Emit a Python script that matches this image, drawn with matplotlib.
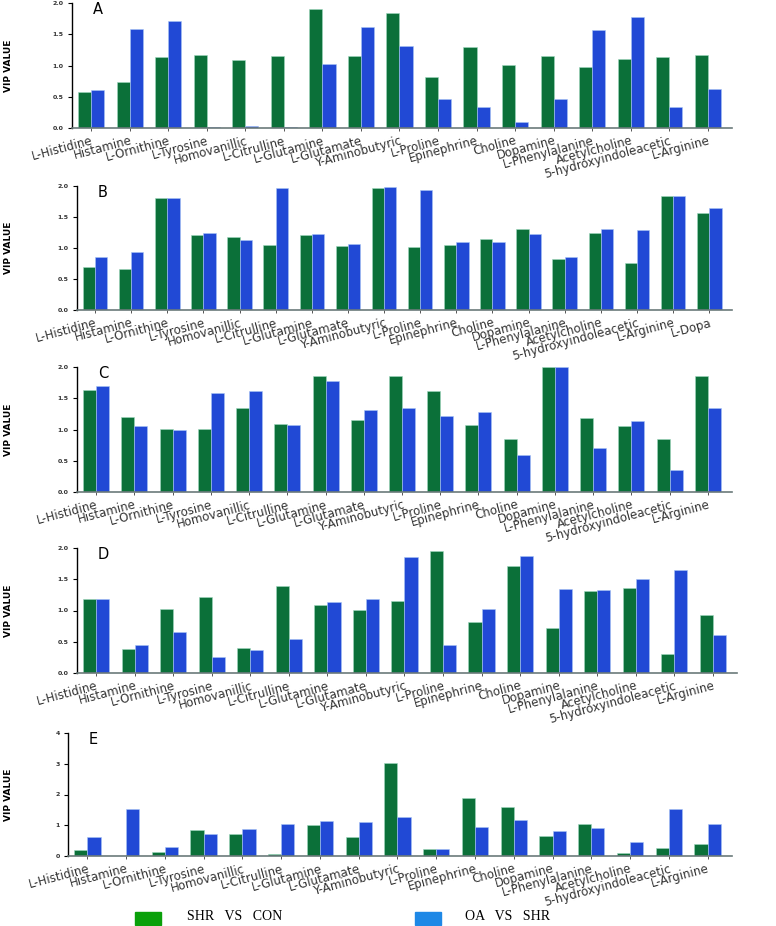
import matplotlib
matplotlib.use('Agg')
import matplotlib.pyplot as plt
import numpy as np
from matplotlib.patches import Rectangle

base_labels = ["L-Histidine", "Histamine", "L-Ornithine", "L-Tyrosine", "Homovanillic",
               "L-Citrulline", "L-Glutamine", "L-Glutamate", "Y-Aminobutyric", "L-Proline",
               "Epinephrine", "Choline", "Dopamine", "L-Phenylalanine", "Acetylcholine",
               "5-hydroxyindoleacetic", "L-Arginine"]
labels_b = base_labels + ["L-Dopa"]

# SHR vs CON (green) and OA vs SHR (blue) VIP values per panel
a_shr = [0.58, 0.73, 1.14, 1.165, 1.09, 1.155, 1.91, 1.15, 1.835, 0.82, 1.30, 1.005, 1.15, 0.97, 1.11, 1.13, 1.165]
a_oa = [0.61, 1.59, 1.72, 0.015, 0.04, 0.01, 1.02, 1.62, 1.32, 0.46, 0.33, 0.096, 0.47, 1.57, 1.77, 0.34, 0.63]

b_shr = [0.69, 0.66, 1.80, 1.216, 1.18, 1.05, 1.205, 1.03, 1.97, 1.016, 1.05, 1.15, 1.30, 0.83, 1.24, 0.76, 1.84, 1.57]
b_oa = [0.86, 0.93, 1.805, 1.24, 1.13, 1.96, 1.23, 1.06, 1.98, 1.93, 1.09, 1.10, 1.23, 0.86, 1.31, 1.29, 1.84, 1.64]

c_shr = [1.64, 1.20, 1.016, 1.016, 1.35, 1.085, 1.855, 1.15, 1.855, 1.61, 1.075, 0.845, 2.0, 1.18, 1.05, 0.855, 1.855]
c_oa = [1.69, 1.06, 1.0, 1.59, 1.61, 1.075, 1.775, 1.32, 1.35, 1.22, 1.28, 0.60, 2.0, 0.71, 1.13, 0.35, 1.34]

d_shr = [1.19, 0.39, 1.03, 1.216, 0.405, 1.40, 1.088, 1.008, 1.152, 1.947, 0.82, 1.717, 0.715, 1.312, 1.355, 0.30, 0.923]
d_oa = [1.184, 0.45, 0.66, 0.256, 0.373, 0.54, 1.136, 1.19, 1.856, 0.448, 1.024, 1.872, 1.344, 1.328, 1.50, 1.653, 0.613]

e_shr = [0.196, 0.0, 0.12, 0.84, 0.71, 0.065, 1.0, 0.61, 3.02, 0.24, 1.89, 1.58, 0.65, 1.04, 0.10, 0.26, 0.39]
e_oa = [0.63, 1.54, 0.30, 0.72, 0.88, 1.03, 1.14, 1.10, 1.26, 0.23, 0.93, 1.17, 0.82, 0.91, 0.45, 1.52, 1.05]

GREEN = '#0b7039'
BLUE = '#2149d5'

W, H = 776, 926
fig = plt.figure(figsize=(W / 100, H / 100), dpi=100)

# (letter, labels, green, blue, ymax, yticks, tick labels, left, right, top, bottom) in pixels
panels = [
    ("A", base_labels, a_shr, a_oa, 2.0, [0, 0.5, 1.0, 1.5, 2.0], ["0.0", "0.5", "1.0", "1.5", "2.0"], 72, 732, 3, 128),
    ("B", labels_b, b_shr, b_oa, 2.0, [0, 0.5, 1.0, 1.5, 2.0], ["0.0", "0.5", "1.0", "1.5", "2.0"], 77, 732, 186, 310),
    ("C", base_labels, c_shr, c_oa, 2.0, [0, 0.5, 1.0, 1.5, 2.0], ["0.0", "0.5", "1.0", "1.5", "2.0"], 77, 732, 367, 492),
    ("D", base_labels, d_shr, d_oa, 2.0, [0, 0.5, 1.0, 1.5, 2.0], ["0.0", "0.5", "1.0", "1.5", "2.0"], 77, 737, 548, 673),
    ("E", base_labels, e_shr, e_oa, 4.0, [0, 1, 2, 3, 4], ["0", "1", "2", "3", "4"], 68, 732, 733, 856),
]

w = 0.34
for letter, labels, shr, oa, ymax, yt, ytl, l, r, t, b in panels:
    ax = fig.add_axes([l / W, 1 - b / H, (r - l) / W, (b - t) / H])
    n = len(labels)
    x = np.arange(n)
    ax.bar(x - w / 2, shr, w, color=GREEN, edgecolor='#9fd8c0', linewidth=0.4)
    ax.bar(x + w / 2, oa, w, color=BLUE, edgecolor='#a8c4f5', linewidth=0.4)
    ax.set_xlim(-0.5, n - 0.37)
    ax.set_ylim(0, ymax)
    ax.set_yticks(yt)
    ax.set_yticklabels(ytl, fontsize=4.5, fontweight='bold', color='#333333')
    ax.set_xticks(x)
    ax.set_xticklabels(labels, rotation=15, ha='right', rotation_mode='anchor',
                       fontsize=8.5, color='#333333')
    ax.tick_params(axis='x', length=2.5, width=0.7, pad=2, color='#555555')
    ax.tick_params(axis='y', length=3, width=0.8, pad=3)
    for s in ('top', 'right'):
        ax.spines[s].set_visible(False)
    ax.spines['left'].set_linewidth(1.0)
    ax.spines['bottom'].set_color('#6b7a7a')
    ax.spines['bottom'].set_linewidth(1.2)
    ax.set_ylabel("VIP VALUE", fontsize=6.5, fontweight='bold',
                  family=['Liberation Sans Narrow', 'DejaVu Sans'])
    ax.yaxis.set_label_coords(-(l - 13) / (r - l), 0.5)
    fig.text((l + 21) / W, 1 - (t - 1) / H, letter, fontsize=10.5, va='top', ha='left')

# legend
fig.patches.append(Rectangle((135 / W, 1 - 925 / H), 26 / W, 13 / H, color='#0aa00a',
                             transform=fig.transFigure, figure=fig))
fig.patches.append(Rectangle((415 / W, 1 - 925 / H), 26 / W, 13 / H, color='#1e88e6',
                             transform=fig.transFigure, figure=fig))
fig.text(187 / W, 1 - 917 / H, "SHR   VS   CON", family='Liberation Serif', fontsize=10, va='center')
fig.text(465 / W, 1 - 917 / H, "OA   VS   SHR", family='Liberation Serif', fontsize=10, va='center')

plt.savefig("out.png", dpi=100)
